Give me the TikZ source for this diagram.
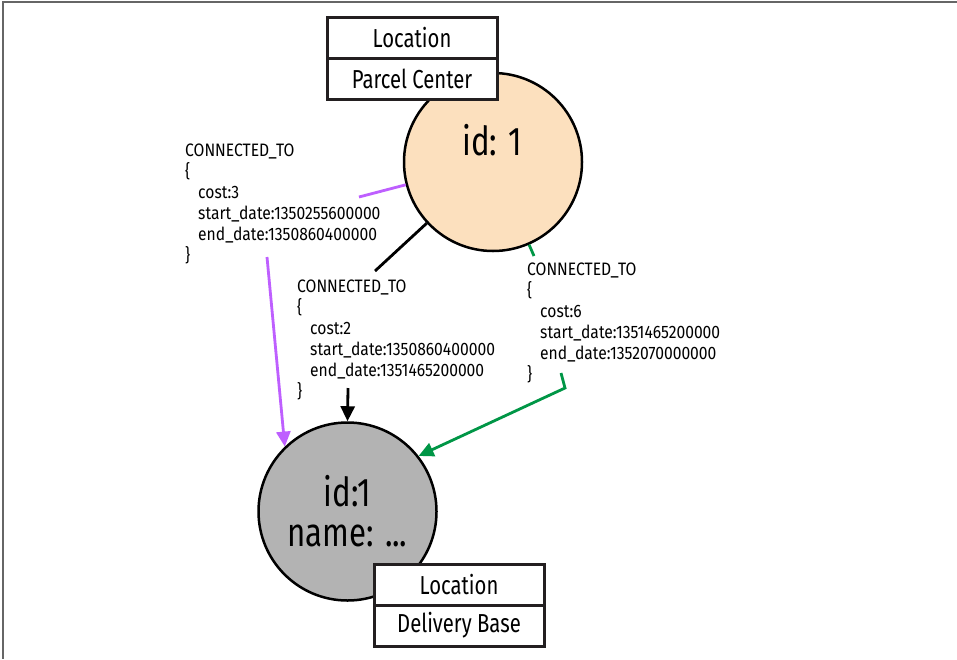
\documentclass[tikz,border=0pt]{standalone}
\usepackage{fontspec}
\setmainfont{Fira Sans}[FakeStretch=0.78]
\newfontfamily\edgefont{Fira Sans}[FakeStretch=0.87]
\usetikzlibrary{arrows.meta,positioning}
\definecolor{peach}{RGB}{252,224,190}
\definecolor{nodegray}{RGB}{179,179,179}
\definecolor{edgepurple}{RGB}{190,95,255}
\definecolor{edgegreen}{RGB}{0,150,70}
\definecolor{boxline}{RGB}{35,31,32}
\tikzset{
  location/.style={circle,draw=black,line width=2.5pt,minimum size=178pt,inner sep=0pt},
  tagbox/.style={draw=boxline,fill=white,line width=3pt,minimum width=170pt,minimum height=41pt,inner sep=0pt,outer sep=0pt,font=\fontsize{26}{26}\selectfont},
  rel/.style={align=left,inner sep=0pt,anchor=north west,font=\edgefont\fontsize{18}{21}\selectfont},
  link/.style={line width=2.8pt},
  arrowend/.style={-{Triangle[length=15pt,width=14pt]}}
}
\begin{document}
\begin{tikzpicture}[x=1pt,y=-1pt]
\fill[white] (0,0) rectangle (957,659);
\useasboundingbox (0,0) rectangle (957,659);
%frame
\draw[black!60,line width=2pt] (957,2) -- (3,2) -- (3,659);

%locations
\node[location,fill=peach] (pc) at (493,162) {};
\node[font=\fontsize{40}{40}\selectfont] (pcid) at (492,140) {id: 1};
\node[location,fill=nodegray,align=center,font=\fontsize{40}{40}\selectfont] (db) at (347.5,511.5) {id:1\\name: ...};

\node[tagbox] (pclabel) at (412,37.5) {Location};
\node[tagbox,below=0pt of pclabel] (pcname) {Parcel Center};
\node[tagbox] (dblabel) at (459,584.5) {Location};
\node[tagbox,below=0pt of dblabel] (dbname) {Delivery Base};

%relationship properties
\node[rel] (relA) at (185,144) {CONNECTED\_TO\\\{\\\hspace*{13pt}cost:3\\\hspace*{13pt}start\_date:1350255600000\\\hspace*{13pt}end\_date:1350860400000\\\}};
\node[rel] (relB) at (297,280) {CONNECTED\_TO\\\{\\\hspace*{13pt}cost:2\\\hspace*{13pt}start\_date:1350860400000\\\hspace*{13pt}end\_date:1351465200000\\\}};
\node[rel] (relC) at (527,263) {CONNECTED\_TO\\\{\\\hspace*{13pt}cost:6\\\hspace*{13pt}start\_date:1351465200000\\\hspace*{13pt}end\_date:1352070000000\\\}};

%edges
\coordinate (a1) at (359,197);
\coordinate (a2) at (267,257);
\draw[link,edgepurple] (pc) -- (a1);
\draw[link,edgepurple,arrowend] (a2) -- (db.134);

\coordinate (b1) at (375,271);
\coordinate (b2) at (348,388);
\draw[link] (pc) -- (b1);
\draw[link,arrowend] (b2) -- (db.north);

\coordinate (g1) at (534,256);
\coordinate (g2) at (561,373);
\coordinate (g3) at (565,388);
\draw[link,edgegreen] (pc) -- (g1);
\draw[link,edgegreen,arrowend] (g2) -- (g3) -- (db.38);
\end{tikzpicture}
\end{document}
